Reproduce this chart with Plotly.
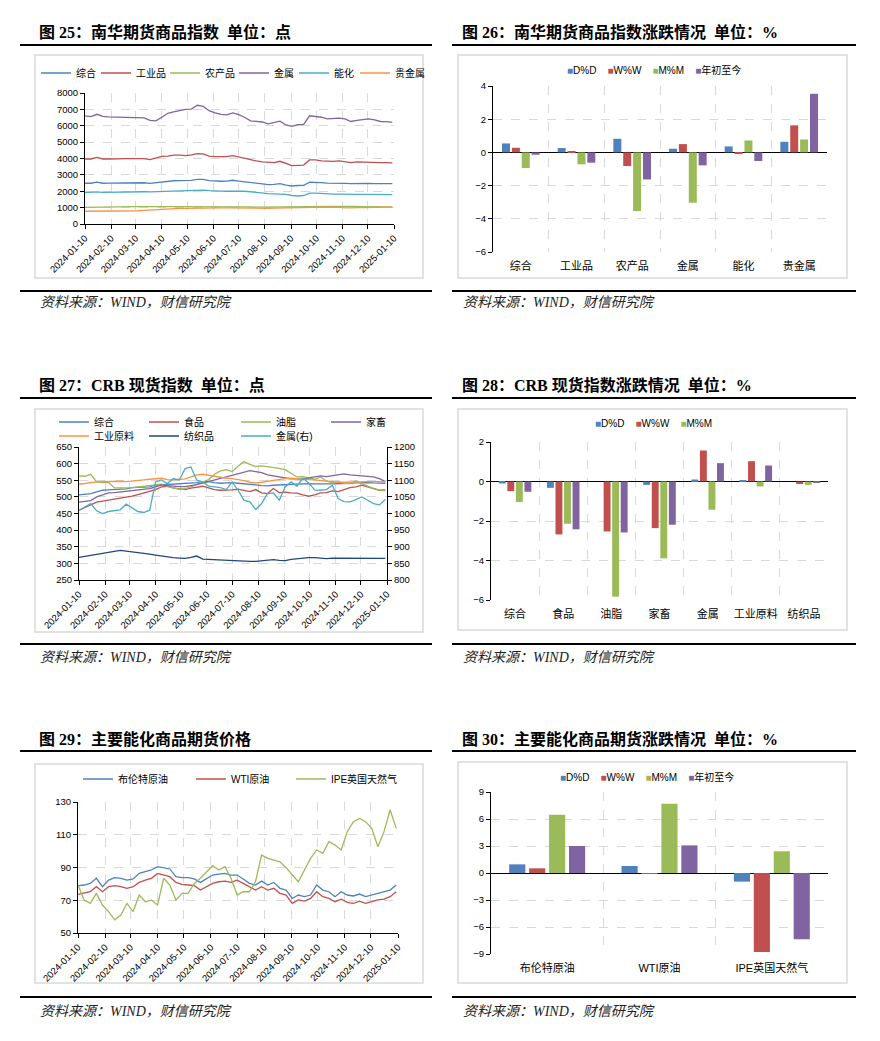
import pandas as pd
import plotly.graph_objects as go

W, H = 880, 1041

# weekly sampling of the daily series
dates = pd.date_range("2024-01-10", periods=53, freq="7D")

# ---- 图25 南华期货商品指数 ----
nh_names = ["综合", "工业品", "农产品", "金属", "能化", "贵金属"]
nh_composite = [2490, 2490, 2560, 2490, 2500, 2510, 2510, 2510, 2520, 2510,
                2520, 2480, 2520, 2600, 2620, 2640, 2650, 2650, 2660, 2720,
                2720, 2650, 2620, 2610, 2620, 2670, 2620, 2580, 2500, 2460,
                2440, 2410, 2420, 2460, 2370, 2320, 2350, 2360, 2550, 2550,
                2530, 2500, 2500, 2520, 2480, 2460, 2480, 2480, 2480, 2470,
                2460, 2470, 2460]
nh_industrial = [3970, 3970, 4070, 3970, 3970, 3990, 3990, 3990, 3990, 3980,
                 3990, 3930, 4010, 4130, 4150, 4200, 4200, 4180, 4220, 4300,
                 4280, 4150, 4110, 4090, 4110, 4180, 4090, 4030, 3910, 3850,
                 3790, 3750, 3750, 3830, 3690, 3560, 3580, 3600, 3910, 3910,
                 3850, 3830, 3830, 3850, 3790, 3750, 3790, 3770, 3770, 3770,
                 3750, 3750, 3730]
nh_agri = [1020, 1030, 1040, 1030, 1030, 1030, 1040, 1050, 1060, 1060,
           1070, 1070, 1070, 1060, 1060, 1060, 1070, 1070, 1080, 1080,
           1080, 1070, 1060, 1060, 1070, 1060, 1050, 1050, 1040, 1030,
           1030, 1040, 1040, 1040, 1050, 1040, 1040, 1050, 1060, 1060,
           1060, 1060, 1070, 1080, 1090, 1080, 1070, 1060, 1060, 1050,
           1050, 1040, 1040]
nh_metal = [6600, 6560, 6700, 6570, 6540, 6530, 6520, 6500, 6480, 6450,
            6480, 6330, 6300, 6520, 6760, 6850, 6940, 7000, 7020, 7250,
            7180, 6920, 6790, 6700, 6660, 6780, 6680, 6520, 6300, 6270,
            6230, 6120, 6180, 6280, 6050, 5960, 6060, 6080, 6610, 6570,
            6520, 6420, 6460, 6470, 6420, 6260, 6330, 6380, 6420, 6360,
            6260, 6250, 6200]
nh_energy = [1910, 1930, 1960, 1930, 1940, 1950, 1950, 1950, 1960, 1960,
             1970, 1960, 1970, 1990, 2020, 2030, 2030, 2020, 2030, 2060,
             2070, 2040, 2010, 2010, 2000, 2010, 2010, 2000, 1970, 1920,
             1890, 1860, 1840, 1840, 1810, 1740, 1710, 1740, 1880, 1880,
             1850, 1830, 1830, 1830, 1810, 1800, 1810, 1810, 1800, 1800,
             1790, 1790, 1790]
nh_precious = [780, 780, 785, 785, 790, 790, 790, 795, 800, 810,
               830, 850, 880, 930, 950, 960, 950, 960, 970, 990,
               1000, 990, 980, 990, 990, 980, 990, 980, 970, 960,
               950, 960, 970, 980, 990, 990, 1000, 1010, 1020, 1030,
               1040, 1030, 1020, 1030, 990, 990, 1000, 1010, 1010, 1000,
               1010, 1020, 1030]

# ---- 图26 南华期货商品指数涨跌情况 ----
chg_names = ["D%D", "W%W", "M%M", "年初至今"]
nh_cats = ["综合", "工业品", "农产品", "金属", "能化", "贵金属"]
nh_dd = [0.54, 0.26, 0.82, 0.22, 0.36, 0.64]
nh_ww = [0.28, 0.08, -0.82, 0.50, -0.10, 1.63]
nh_mm = [-0.94, -0.72, -3.53, -3.03, 0.72, 0.78]
nh_ytd = [-0.14, -0.62, -1.63, -0.78, -0.52, 3.53]

# ---- 图27 CRB 现货指数 ----
crb_names = ["综合", "食品", "油脂", "家畜", "工业原料", "纺织品", "金属(右)"]
crb_composite = [506, 508, 510, 515, 520, 521, 522, 523, 524, 528,
                 528, 530, 530, 535, 536, 537, 538, 540, 541, 542,
                 543, 546, 546, 543, 541, 542, 543, 541, 540, 537,
                 536, 534, 533, 535, 536, 537, 538, 540, 541, 540,
                 539, 538, 539, 539, 539, 540, 541, 542, 543, 543,
                 542, 541, 541]
crb_food = [460, 468, 478, 484, 487, 490, 493, 495, 498, 502,
            507, 512, 518, 522, 530, 532, 527, 524, 522, 526,
            530, 532, 527, 522, 520, 520, 521, 523, 520, 516,
            522, 512, 510, 525, 513, 514, 512, 511, 506, 502,
            506, 512, 513, 518, 516, 522, 528, 530, 535, 530,
            525, 520, 521]
crb_fats = [563, 562, 568, 545, 543, 544, 527, 526, 527, 528,
            530, 531, 534, 536, 538, 531, 526, 523, 525, 530,
            538, 545, 552, 568, 578, 582, 576, 592, 606, 598,
            591, 593, 591, 589, 586, 582, 572, 560, 561, 557,
            553, 560, 548, 542, 545, 541, 540, 548, 540, 533,
            525, 520, 518]
crb_livestock = [484, 486, 489, 500, 507, 512, 513, 515, 516, 519,
                 520, 521, 525, 530, 536, 534, 532, 531, 531, 533,
                 537, 541, 546, 551, 556, 561, 566, 571, 576, 579,
                 576, 573, 566, 563, 561, 557, 554, 554, 553, 557,
                 561, 563, 561, 564, 567, 569, 566, 564, 563, 562,
                 560, 555, 546]
crb_industrial = [538, 541, 543, 545, 546, 547, 548, 547, 546, 547,
                  549, 551, 553, 555, 556, 552, 551, 553, 554, 560,
                  566, 568, 565, 561, 559, 556, 555, 553, 549, 544,
                  542, 544, 547, 550, 552, 555, 556, 554, 553, 552,
                  551, 549, 547, 545, 544, 544, 545, 546, 546, 546,
                  546, 546, 546]
crb_textile = [318, 320, 324, 327, 330, 333, 335, 339, 337, 335,
               333, 332, 328, 325, 322, 319, 317, 316, 315, 318,
               322, 313, 312, 311, 310, 309, 307, 307, 307, 306,
               306, 307, 309, 311, 309, 308, 312, 314, 316, 317,
               317, 315, 314, 316, 316, 315, 316, 316, 316, 315,
               315, 315, 315]
crb_metals = [1009, 1020, 1030, 1008, 1000, 1006, 1009, 1011, 1028, 1018,
              1006, 1003, 1010, 1095, 1101, 1090, 1105, 1100, 1135, 1140,
              1100, 1095, 1082, 1080, 1078, 1072, 1095, 1070, 1040, 1035,
              1012, 1030, 1060, 1062, 1040, 1080, 1095, 1082, 1106, 1092,
              1071, 1070, 1072, 1085, 1045, 1036, 1035, 1042, 1050, 1040,
              1030, 1026, 1042]

# ---- 图28 CRB 现货指数涨跌情况 ----
crb_cats = ["综合", "食品", "油脂", "家畜", "金属", "工业原料", "纺织品"]
crb_dd = [-0.10, -0.32, 0.0, -0.17, 0.10, 0.03, 0.0]
crb_ww = [-0.49, -2.68, -2.53, -2.36, 1.57, 1.03, -0.13]
crb_mm = [-1.04, -2.14, -5.83, -3.89, -1.43, -0.25, -0.17]
crb_4th = [-0.52, -2.42, -2.58, -2.19, 0.93, 0.81, -0.05]

# ---- 图29 主要能化商品期货价格 ----
en_names = ["布伦特原油", "WTI原油", "IPE英国天然气"]
brent = [78.9, 79.3, 80.3, 83.4, 78.3, 82.3, 83.8, 83.4, 82.3, 83.0,
         86.4, 87.4, 88.5, 90.5, 89.9, 89.1, 84.4, 83.8, 83.8, 83.0,
         80.9, 83.0, 85.4, 86.0, 86.4, 85.4, 85.4, 83.0, 80.3, 79.3,
         81.7, 79.3, 80.9, 77.3, 76.2, 71.1, 73.2, 72.2, 73.2, 79.3,
         76.2, 75.2, 72.2, 75.2, 73.2, 72.6, 73.8, 72.2, 73.2, 74.2,
         75.2, 76.2, 79.3]
wti = [73.6, 74.2, 75.2, 78.3, 75.2, 78.3, 78.9, 78.3, 77.3, 78.3,
       80.9, 82.3, 83.4, 86.4, 85.4, 84.4, 80.9, 79.7, 79.3, 78.9,
       76.2, 78.3, 80.3, 81.3, 81.7, 80.9, 82.3, 80.3, 78.3, 76.2,
       78.3, 76.2, 77.3, 74.2, 73.2, 68.1, 70.2, 69.5, 71.1, 75.2,
       72.2, 71.1, 69.1, 70.7, 68.7, 68.1, 69.5, 68.1, 69.1, 70.2,
       70.7, 72.2, 75.2]
ipe_gas = [79.3, 70.1, 68.1, 74.2, 67.1, 63.0, 58.0, 61.0, 68.1, 63.0,
           73.2, 69.1, 70.1, 67.1, 83.4, 79.3, 70.1, 74.2, 74.2, 80.3,
           83.4, 87.4, 91.1, 88.5, 90.5, 83.4, 73.2, 75.2, 75.2, 81.3,
           97.6, 95.6, 94.6, 93.5, 89.9, 85.4, 81.3, 88.5, 95.6, 100.7,
           98.6, 105.8, 103.7, 100.7, 111.9, 118.0, 120.0, 118.0, 113.9, 102.7,
           111.9, 125.1, 113.9]

# ---- 图30 主要能化商品期货涨跌情况 ----
en_cats = ["布伦特原油", "WTI原油", "IPE英国天然气"]
en_dd = [0.96, 0.78, -0.96]
en_ww = [0.52, -0.04, -8.78]
en_mm = [6.48, 7.70, 2.41]
en_ytd = [3.00, 3.07, -7.37]

#### STYLE ####
BLUE, RED, GREEN, PURPLE, CYAN, ORANGE, NAVY = (
    "#4F81BD", "#C0504D", "#9BBB59", "#8064A2", "#4BACC6", "#F79646", "#1F497D")
bar_colors = [BLUE, RED, GREEN, PURPLE]
GRID = "#D9D9D9"
TICKFONT = dict(family="Liberation Sans, Noto Sans CJK SC", size=9.5, color="#000")
CATFONT = dict(family="Liberation Sans, Noto Sans CJK SC", size=11, color="#000")
LEGFONT = dict(family="Liberation Sans, Noto Sans CJK SC", size=10, color="#000")


def fx(p):
    return p / W


def fy(p):
    return 1 - p / H


def date_axis(x0, x1, anchor):
    return dict(domain=[fx(x0), fx(x1)], anchor=anchor, type="date",
                range=["2024-01-10", "2025-01-10"], tick0="2024-01-10", dtick="M1",
                tickformat="%Y-%m-%d", tickangle=-45, tickfont=TICKFONT,
                showline=True, linecolor="#000", linewidth=1,
                ticks="outside", ticklen=4, tickcolor="#000",
                showgrid=True, gridcolor=GRID, griddash="dash", gridwidth=1.2,
                zeroline=False, fixedrange=True, automargin=False)


def value_axis(y0, y1, anchor, rng, step, side="left", grid=True, zero=False):
    return dict(domain=[fy(y1), fy(y0)], anchor=anchor, range=rng, dtick=step,
                tick0=rng[0], side=side, tickfont=TICKFONT,
                showline=True, linecolor="#000", linewidth=1,
                ticks="outside", ticklen=4, tickcolor="#000",
                showgrid=grid, gridcolor=GRID, griddash="dash", gridwidth=1.2,
                zeroline=zero, zerolinecolor="#000", zerolinewidth=1.3,
                fixedrange=True, automargin=False)


def cat_axis(x0, x1, anchor, cats):
    n = len(cats)
    return dict(domain=[fx(x0), fx(x1)], anchor=anchor, range=[-0.5, n - 0.5],
                tickmode="array", tickvals=list(range(n)), ticktext=cats,
                tickfont=CATFONT, showgrid=False, zeroline=False, showline=False,
                ticks="", ticklabelstandoff=6, fixedrange=True, automargin=False,
                minor=dict(tick0=0.5, dtick=1, showgrid=True, gridcolor=GRID,
                           griddash="dash", gridwidth=1.2))


def line_legend(x_left, y_mid):
    return dict(orientation="h", x=fx(x_left), xanchor="left", y=fy(y_mid),
                yanchor="middle", entrywidthmode="pixels",
                font=LEGFONT, bgcolor="rgba(0,0,0,0)", itemwidth=30,
                tracegroupgap=0)


fig = go.Figure()


def add_lines(names, series, colors, widths, xa, ya, legend):
    for n, s, c, w in zip(names, series, colors, widths):
        fig.add_trace(go.Scatter(x=dates, y=s, mode="lines", name=n,
                                 line=dict(color=c, width=1.3), legendwidth=w,
                                 xaxis=xa, yaxis=ya, legend=legend))


def add_bars(cats, series, names, xa, ya):
    for n, s, c in zip(names, series, bar_colors):
        fig.add_trace(go.Bar(x=list(range(len(cats))), y=s, name=n,
                             marker=dict(color=c, line=dict(width=0)),
                             xaxis=xa, yaxis=ya, showlegend=False))


# 图25
add_lines(nh_names, [nh_composite, nh_industrial, nh_agri, nh_metal, nh_energy, nh_precious],
          [BLUE, RED, GREEN, PURPLE, CYAN, ORANGE], [15, 24, 24, 15, 16, 34],
          "x", "y", "legend")
# 图26
add_bars(nh_cats, [nh_dd, nh_ww, nh_mm, nh_ytd], chg_names, "x2", "y2")
# 图27
add_lines(crb_names[:4], [crb_composite, crb_food, crb_fats, crb_livestock],
          [BLUE, RED, GREEN, PURPLE], [45, 47, 45, 40], "x3", "y3", "legend2")
add_lines(crb_names[4:6], [crb_industrial, crb_textile], [ORANGE, NAVY], [45, 47],
          "x3", "y3", "legend3")
add_lines(crb_names[6:], [crb_metals], [CYAN], [50], "x3", "y4", "legend3")
# 图28
add_bars(crb_cats, [crb_dd, crb_ww, crb_mm, crb_4th], chg_names, "x4", "y5")
# 图29
add_lines(en_names, [brent, wti, ipe_gas], [BLUE, RED, GREEN], [68, 55, 75],
          "x5", "y6", "legend4")
# 图30
add_bars(en_cats, [en_dd, en_ww, en_mm, en_ytd], chg_names, "x6", "y7")


def bar_legend_text(names):
    parts = ['<span style="color:%s">■</span>%s' % (c, n) for n, c in zip(names, bar_colors)]
    return "    ".join(parts)


TITLE_FONT = dict(family="Liberation Serif, Noto Sans CJK SC", size=16, color="#000")
SRC_FONT = dict(family="Liberation Serif, Noto Sans CJK SC", size=14, color="#222")

titles = [
    (37, 32, "图 25：南华期货商品指数  单位：点"),
    (460, 32, "图 26：南华期货商品指数涨跌情况  单位：%"),
    (37, 385, "图 27：CRB 现货指数  单位：点"),
    (460, 385, "图 28：CRB 现货指数涨跌情况  单位：%"),
    (37, 739, "图 29：主要能化商品期货价格"),
    (460, 739, "图 30：主要能化商品期货涨跌情况  单位：%"),
]
annotations = []
for x, y, t in titles:
    annotations.append(dict(x=fx(x), y=fy(y), xref="paper", yref="paper", xanchor="left",
                            yanchor="middle", showarrow=False, text="<b>%s</b>" % t,
                            font=TITLE_FONT))
for x in (38, 461):
    for y in (302, 657, 1011):
        annotations.append(dict(x=fx(x), y=fy(y), xref="paper", yref="paper", xanchor="left",
                                yanchor="middle", showarrow=False,
                                text="<i>资料来源：WIND，财信研究院</i>", font=SRC_FONT))
for x, y, names in [(654, 70, chg_names), (653, 423, chg_names[:3]), (647, 777, chg_names)]:
    annotations.append(dict(x=fx(x), y=fy(y), xref="paper", yref="paper", xanchor="center",
                            yanchor="middle", showarrow=False, text=bar_legend_text(names),
                            font=dict(family="Liberation Sans, Noto Sans CJK SC", size=10,
                                      color="#000")))

shapes = []
for x0, x1 in ((20, 432), (452, 856)):
    for y in (45, 291, 398, 644, 751, 997):
        shapes.append(dict(type="line", xref="paper", yref="paper", x0=fx(x0), x1=fx(x1),
                           y0=fy(y), y1=fy(y), line=dict(color="#000", width=2)))
for x0, x1, y0, y1 in [(35, 423, 55, 278), (458, 847, 55, 278),
                       (35, 423, 409, 632), (458, 847, 409, 630),
                       (35, 423, 764, 983), (458, 847, 762, 983)]:
    shapes.append(dict(type="rect", xref="paper", yref="paper", x0=fx(x0), x1=fx(x1),
                       y0=fy(y1), y1=fy(y0), line=dict(color="#D9D9D9", width=1.5)))

fig.update_layout(
    width=W, height=H, margin=dict(l=0, r=0, t=0, b=0, autoexpand=False),
    paper_bgcolor="#fff", plot_bgcolor="#fff",
    barmode="group", bargap=0.29, bargroupgap=0.19,
    xaxis=date_axis(85, 394, "y"),
    yaxis=value_axis(93, 224, "x", [0, 8000], 1000),
    xaxis2=cat_axis(493, 827, "y2", nh_cats),
    yaxis2=value_axis(86, 252, "x2", [-6, 4], 2, zero=True),
    xaxis3=date_axis(79, 387, "y3"),
    yaxis3=value_axis(447, 580, "x3", [250, 650], 50),
    yaxis4=dict(value_axis(447, 580, "x3", [800, 1200], 50, side="right", grid=False),
                overlaying="y3"),
    xaxis4=cat_axis(491, 828, "y5", crb_cats),
    yaxis5=value_axis(442, 600, "x4", [-6, 2], 2, zero=True),
    xaxis5=date_axis(78, 398, "y6"),
    yaxis6=value_axis(802, 933, "x5", [50, 130], 20),
    xaxis6=cat_axis(491, 828, "y7", en_cats),
    yaxis7=value_axis(792, 954, "x6", [-9, 9], 3, zero=True),
    legend=line_legend(36, 73),
    legend2=line_legend(54, 422),
    legend3=line_legend(54, 436),
    legend4=line_legend(78, 779),
    annotations=annotations,
    shapes=shapes,
    hovermode=False,
)

fig.write_html("out.html", config={"displayModeBar": False},
               post_script="document.body.style.margin='0';")
